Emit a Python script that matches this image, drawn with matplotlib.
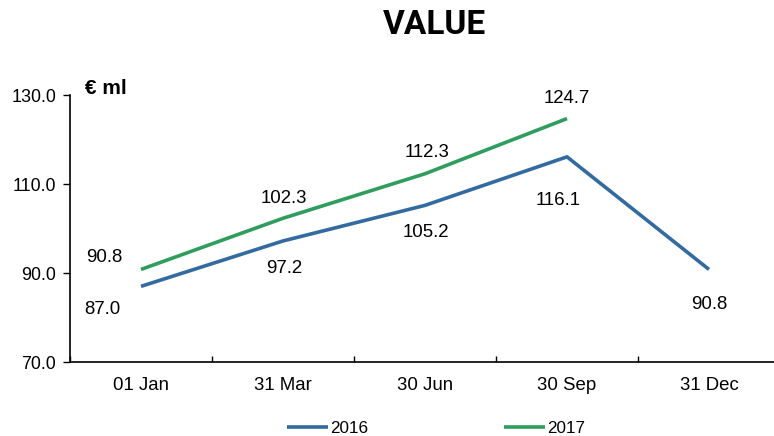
import matplotlib
matplotlib.use("Agg")
import matplotlib.pyplot as plt
from matplotlib.ticker import FixedLocator

categories = ["01 Jan", "31 Mar", "30 Jun", "30 Sep", "31 Dec"]
values_2016 = [87.0, 97.2, 105.2, 116.1, 90.8]
values_2017 = [90.8, 102.3, 112.3, 124.7]
yticks = [70.0, 90.0, 110.0, 130.0]

c2016 = "#336BA0"
c2017 = "#2E9D5E"

plt.rcParams["font.family"] = ["Liberation Sans", "DejaVu Sans"]

fig = plt.figure(figsize=(7.74, 4.36), dpi=100)
ax = fig.add_axes([70 / 774, 1 - 362 / 436, 710 / 774, 267 / 436])

x16 = list(range(len(values_2016)))
x17 = list(range(len(values_2017)))
ax.plot(x16, values_2016, color=c2016, lw=2.6, label="2016", solid_capstyle="butt")
ax.plot(x17, values_2017, color=c2017, lw=2.6, label="2017", solid_capstyle="butt")

ax.set_xlim(-0.5, len(categories) - 0.5)
ax.set_ylim(70, 130)
ax.set_xticks(range(len(categories)))
ax.set_xticklabels(categories, fontsize=13.4)
ax.xaxis.set_minor_locator(FixedLocator([i + 0.5 for i in range(-1, len(categories))]))
ax.tick_params(axis="x", which="major", length=0, pad=11)
ax.tick_params(axis="x", which="minor", length=4, direction="in", width=1)
ax.set_yticks(yticks)
ax.set_yticklabels([f"{v:.1f}" for v in yticks], fontsize=12.9)
ax.tick_params(axis="y", length=5, width=1, direction="out", pad=5)

for s in ["top", "right"]:
    ax.spines[s].set_visible(False)
for s in ["left", "bottom"]:
    ax.spines[s].set_linewidth(1.2)

# data label baseline offsets in pixels (positive = up)
off16 = [(-39, -27.6), (1, -32), (1, -31.6), (-9, -48), (0, -39.6)]
off17 = [(-37, 7.4), (1, 15.3), (2, 16.8), (0, 15.6)]
for i, v in enumerate(values_2016):
    ax.annotate(f"{v:.1f}", (i, v), xytext=off16[i], textcoords="offset pixels",
                ha="center", va="baseline", fontsize=13.4)
for i, v in enumerate(values_2017):
    ax.annotate(f"{v:.1f}", (i, v), xytext=off17[i], textcoords="offset pixels",
                ha="center", va="baseline", fontsize=13.4)

fig.text(85 / 774, 1 - 88 / 436, "€ ml", fontsize=15, fontweight="bold", ha="left", va="center")
fig.text(434 / 774, 1 - 25 / 436, "VALUE", fontsize=24, fontweight="bold",
         family=["Roboto", "DejaVu Sans"], ha="center", va="center")

fig.legend(loc="center", bbox_to_anchor=(436 / 774, 1 - 428 / 436), ncol=2, frameon=False,
           fontsize=12.3, handlelength=2.4, handletextpad=0.15, columnspacing=7.9)

fig.savefig("out.png", dpi=100)
